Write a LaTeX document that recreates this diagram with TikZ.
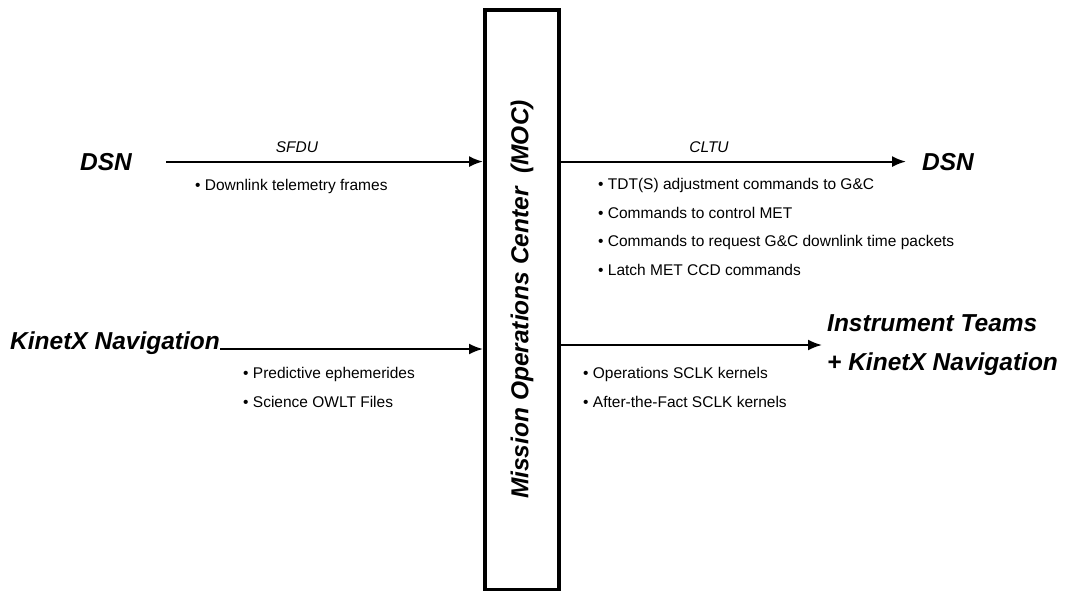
\documentclass[tikz,border=0pt]{standalone}
\usepackage{fontspec}
\setmainfont{Liberation Sans}
\usetikzlibrary{arrows.meta}

\begin{document}
\begin{tikzpicture}
[x=1pt,y=-1pt,%
  every node/.style={inner sep=0pt},%
  party/.style={font=\fontsize{24.5}{39}\selectfont\bfseries\itshape,align=left},%
  items/.style={font=\fontsize{15.5}{28.5}\selectfont,align=left},%
  tag/.style={font=\fontsize{15.5}{18}\selectfont\itshape},%
  flow/.style={-{Latex[length=14pt,width=11pt]},line width=2pt}]
\useasboundingbox (0,0) rectangle (1071,590);
% the centre
\node[draw,line width=4pt,minimum width=74,minimum height=580] (moc) at (522,299.5) {};
\node[rotate=90,font=\fontsize{24.5}{30}\selectfont\bfseries\itshape] (mocText) at (moc.center)
  {Mission Operations Center~~(MOC)};
% parties
\node[party,anchor=base west] (dsnIn) at (80,170) {DSN};
\node[party,anchor=base west] (dsnOut) at (922,170) {DSN};
\node[party,anchor=base west] (navIn) at (10,349) {KinetX Navigation};
\node[party,anchor=west] (teams) at (827,345) {Instrument Teams\\+ KinetX Navigation};
% flows
\draw[flow] ([xshift=34pt]dsnIn.east) -- (dsnIn.east -| moc.west);
\draw[flow] (moc.east |- dsnOut.west) -- ([xshift=-16pt]dsnOut.west);
\draw[flow] (navIn.base east) -- (navIn.base east -| moc.west);
\draw[flow] (moc.east |- teams.west) -- ([xshift=-5pt]teams.west);
% labels (base = last line)
\node[tag,anchor=base] (sfdu) at (297,152) {SFDU};
\node[tag,anchor=base] (cltu) at (709,152) {CLTU};
\node[items,anchor=base west] (downItems) at (195,190) {\textbullet\ Downlink telemetry frames};
\node[items,anchor=base west] (upItems) at (598,275)
  {\textbullet\ TDT(S) adjustment commands to G\&C\\
   \textbullet\ Commands to control MET\\
   \textbullet\ Commands to request G\&C downlink time packets\\
   \textbullet\ Latch MET CCD commands};
\node[items,anchor=base west] (navItems) at (243,407)
  {\textbullet\ Predictive ephemerides\\
   \textbullet\ Science OWLT Files};
\node[items,anchor=base west] (sclkItems) at (583,407)
  {\textbullet\ Operations SCLK kernels\\
   \textbullet\ After-the-Fact SCLK kernels};
\end{tikzpicture}
\end{document}
